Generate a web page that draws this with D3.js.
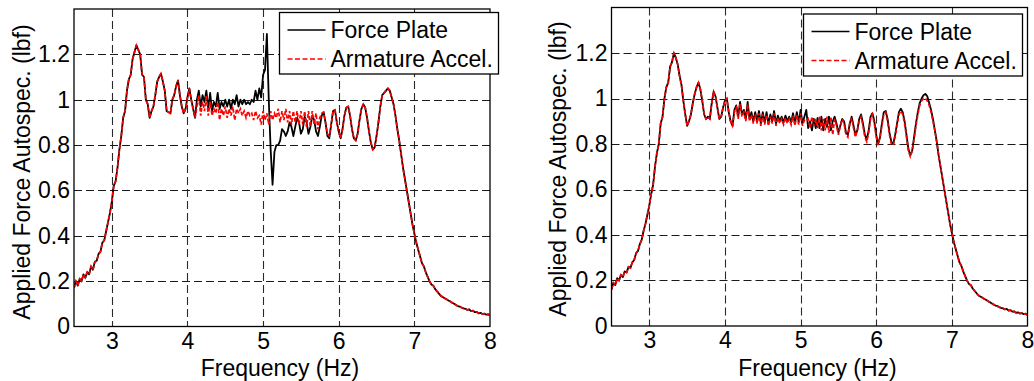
<!DOCTYPE html>
<html><head><meta charset="utf-8">
<script src="https://cdn.jsdelivr.net/npm/d3@7"></script>
<style>
body{margin:0;background:#fff}
svg{display:block}
text{font-family:"Liberation Sans",Arial,Helvetica,sans-serif;fill:#000}
</style>
</head><body>
<svg id="chart" width="1034" height="381"></svg>
<script>
// ---- data ----
const freqStart = 2.5, freqStep = 0.025;   // frequency grid (Hz)
const xTicks = [3, 4, 5, 6, 7, 8];
const yTicks = [0, 0.2, 0.4, 0.6, 0.8, 1, 1.2];
const yTickLabels = ["0", "0.2", "0.4", "0.6", "0.8", "1", "1.2"];
const seriesNames = ["Force Plate", "Armature Accel."];
const xLabel = "Frequency (Hz)";
const yLabel = "Applied Force Autospec. (lbf)";

const leftForcePlate = [
0.17,0.20,0.18,0.21, 0.20,0.23,0.215,0.24, 0.23,0.265,0.25,0.285, 0.29,0.32,0.33,0.37, 0.38,0.42,0.46,0.50,
0.55,0.62,0.64,0.70, 0.78,0.84,0.92,0.95, 1.04,1.09,1.11,1.18, 1.21,1.24,1.22,1.20, 1.11,1.10,1.00,0.98,
0.92,0.95,0.97,1.02, 1.08,1.10,1.115,1.08, 1.04,0.95,0.945,0.94, 1.00,1.02,1.06,1.085, 1.02,0.97,0.94,0.96,
1.01,1.05,1.00,0.96, 0.92,1.00,1.04,0.97, 1.02,0.99,1.04,0.96, 1.03,0.95,0.99,0.97, 1.03,0.96,0.99,0.97,
1.00,0.97,1.00,0.96, 1.00,0.98,1.02,0.97, 1.00,0.98,1.00,0.98, 0.99,0.98,1.00,0.99, 1.04,1.00,1.05,1.01,
1.11,1.13,1.29,1.00, 0.78,0.625,0.77,0.80, 0.80,0.82,0.87,0.86, 0.84,0.86,0.90,0.88, 0.84,0.88,0.92,0.90,
0.85,0.87,0.925,0.90, 0.85,0.88,0.93,0.91, 0.86,0.84,0.88,0.93, 0.945,0.90,0.84,0.83, 0.89,0.95,0.955,0.90,
0.86,0.83,0.87,0.93, 0.965,0.97,0.93,0.87, 0.83,0.82,0.85,0.91, 0.96,0.98,0.965,0.92, 0.86,0.81,0.78,0.79,
0.84,0.90,0.97,1.02, 1.03,1.04,1.05,1.04, 1.01,0.98,0.93,0.87, 0.82,0.76,0.70,0.65, 0.60,0.55,0.50,0.45,
0.41,0.37,0.34,0.31, 0.28,0.265,0.24,0.22, 0.20,0.185,0.18,0.165, 0.155,0.145,0.135,0.13, 0.125,0.12,0.115,0.11,
0.105,0.10,0.095,0.09, 0.088,0.083,0.08,0.078, 0.073,0.075,0.068,0.07, 0.063,0.064,0.058,0.06, 0.055,0.057,0.052,0.054,
0.048];

const leftArmature = [
0.17,0.20,0.18,0.21, 0.20,0.23,0.215,0.24, 0.23,0.265,0.25,0.285, 0.29,0.32,0.33,0.37, 0.38,0.42,0.46,0.50,
0.55,0.62,0.64,0.70, 0.78,0.84,0.92,0.95, 1.04,1.09,1.11,1.18, 1.21,1.24,1.22,1.20, 1.11,1.10,1.00,0.98,
0.92,0.95,0.97,1.02, 1.08,1.10,1.115,1.08, 1.04,0.95,0.945,0.94, 1.00,1.02,1.06,1.085, 1.02,0.97,0.94,0.96,
1.01,1.05,1.00,0.96, 0.92,0.97,1.02,0.93, 0.99,0.95,1.02,0.93, 0.99,0.93,0.96,0.94, 0.99,0.91,0.96,0.93,
0.97,0.92,0.96,0.93, 0.97,0.91,0.96,0.94, 0.96,0.93,0.95,0.92, 0.95,0.93,0.94,0.91, 0.95,0.92,0.93,0.89,
0.95,0.91,0.94,0.89, 0.95,0.91,0.94,0.92, 0.96,0.90,0.95,0.91, 0.96,0.90,0.95,0.89, 0.95,0.90,0.95,0.89,
0.95,0.89,0.95,0.88, 0.95,0.88,0.95,0.89, 0.94,0.87,0.92,0.94, 0.945,0.90,0.85,0.84, 0.89,0.95,0.955,0.90,
0.86,0.83,0.87,0.93, 0.965,0.97,0.93,0.87, 0.83,0.82,0.85,0.91, 0.96,0.98,0.965,0.92, 0.86,0.81,0.78,0.79,
0.84,0.90,0.97,1.02, 1.03,1.04,1.05,1.04, 1.01,0.98,0.93,0.87, 0.82,0.76,0.70,0.65, 0.60,0.55,0.50,0.45,
0.41,0.37,0.34,0.31, 0.28,0.265,0.24,0.22, 0.20,0.185,0.18,0.165, 0.155,0.145,0.135,0.13, 0.125,0.12,0.115,0.11,
0.105,0.10,0.095,0.09, 0.088,0.083,0.08,0.078, 0.073,0.075,0.068,0.07, 0.063,0.064,0.058,0.06, 0.055,0.057,0.052,0.054,
0.048];

const rightForcePlate = [
0.16,0.19,0.18,0.21, 0.20,0.225,0.215,0.24, 0.235,0.26,0.255,0.28, 0.29,0.32,0.33,0.36, 0.38,0.42,0.45,0.49,
0.53,0.58,0.62,0.70, 0.76,0.80,0.89,0.92, 1.00,1.05,1.07,1.14, 1.16,1.20,1.18,1.15, 1.10,1.06,0.99,0.93,
0.88,0.90,0.93,0.98, 1.02,1.05,1.07,1.04, 0.99,0.93,0.91,0.92, 0.91,0.98,1.03,1.01, 0.96,0.91,0.92,0.96,
0.99,1.00,0.94,0.90, 0.88,0.95,0.97,0.92, 0.985,0.93,0.95,0.91, 0.985,0.91,0.94,0.90, 0.94,0.90,0.945,0.89,
0.94,0.895,0.94,0.89, 0.93,0.90,0.945,0.89, 0.925,0.90,0.92,0.895, 0.925,0.90,0.92,0.895, 0.935,0.89,0.94,0.895,
0.95,0.89,0.92,0.95, 0.87,0.90,0.86,0.91, 0.87,0.915,0.87,0.92, 0.86,0.91,0.875,0.92, 0.86,0.90,0.92,0.89,
0.85,0.88,0.91,0.90, 0.85,0.84,0.89,0.92, 0.88,0.84,0.86,0.91, 0.93,0.89,0.84,0.82, 0.86,0.92,0.935,0.90,
0.84,0.80,0.83,0.89, 0.94,0.945,0.91,0.85, 0.81,0.80,0.84,0.89, 0.94,0.955,0.94,0.90, 0.84,0.78,0.75,0.77,
0.83,0.89,0.94,0.98, 1.00,1.015,1.02,1.01, 0.98,0.95,0.91,0.86, 0.81,0.75,0.70,0.65, 0.60,0.55,0.50,0.45,
0.41,0.37,0.34,0.31, 0.28,0.265,0.24,0.22, 0.20,0.185,0.18,0.165, 0.155,0.145,0.135,0.13, 0.125,0.12,0.115,0.11,
0.105,0.10,0.095,0.09, 0.088,0.083,0.08,0.078, 0.073,0.075,0.068,0.07, 0.063,0.064,0.058,0.06, 0.055,0.057,0.052,0.054,
0.048];

const rightArmature = [
0.16,0.19,0.18,0.21, 0.20,0.225,0.215,0.24, 0.235,0.26,0.255,0.28, 0.29,0.32,0.33,0.36, 0.38,0.42,0.45,0.49,
0.53,0.58,0.62,0.70, 0.76,0.80,0.89,0.92, 1.00,1.05,1.07,1.14, 1.16,1.20,1.18,1.15, 1.10,1.06,0.99,0.93,
0.88,0.90,0.93,0.98, 1.02,1.05,1.07,1.04, 0.99,0.93,0.91,0.92, 0.91,0.98,1.03,1.01, 0.96,0.91,0.92,0.96,
0.99,1.00,0.94,0.90, 0.88,0.94,0.96,0.91, 0.975,0.92,0.94,0.90, 0.975,0.90,0.93,0.89, 0.93,0.89,0.935,0.88,
0.93,0.885,0.93,0.88, 0.92,0.89,0.935,0.88, 0.915,0.89,0.91,0.885, 0.915,0.89,0.91,0.885, 0.925,0.88,0.93,0.885,
0.935,0.88,0.905,0.90, 0.91,0.87,0.92,0.88, 0.91,0.87,0.92,0.86, 0.91,0.86,0.92,0.85, 0.92,0.84,0.91,0.88,
0.84,0.88,0.91,0.89, 0.84,0.83,0.89,0.915, 0.87,0.83,0.86,0.90, 0.92,0.88,0.83,0.81, 0.85,0.91,0.93,0.89,
0.83,0.795,0.83,0.88, 0.93,0.94,0.90,0.84, 0.80,0.795,0.83,0.88, 0.93,0.945,0.93,0.89, 0.83,0.77,0.745,0.77,
0.82,0.88,0.93,0.97, 0.99,1.00,1.00,0.99, 0.97,0.94,0.90,0.86, 0.81,0.75,0.70,0.65, 0.60,0.55,0.50,0.45,
0.41,0.37,0.34,0.31, 0.28,0.265,0.24,0.22, 0.20,0.185,0.18,0.165, 0.155,0.145,0.135,0.13, 0.125,0.12,0.115,0.11,
0.105,0.10,0.095,0.09, 0.088,0.083,0.08,0.078, 0.073,0.075,0.068,0.07, 0.063,0.064,0.058,0.06, 0.055,0.057,0.052,0.054,
0.048];

// ---- layout ----
const panels = [
  {l:74, r:490, t:9, b:326.5, lg:{x:279.5, y:12.5, w:219, h:61.5}, ylx:21.7, yly:172,
   series:[leftForcePlate, leftArmature]},
  {l:611.5, r:1027.5, t:7.5, b:326, lg:{x:803.5, y:14, w:219, h:62}, ylx:558, yly:169,
   series:[rightForcePlate, rightArmature]}
];
const FS = 23;
const svg = d3.select("#chart");

panels.forEach((p, pi) => {
  const x = d3.scaleLinear().domain([2.5, 8]).range([p.l, p.r]);
  const y = d3.scaleLinear().domain([0, 1.4]).range([p.b, p.t]);
  const g = svg.append("g");

  // grid
  const gx = g.append("g");
  xTicks.filter(v => v < 8).forEach(v => {
    const xx = Math.round(x(v)) + 0.5;
    gx.append("line").attr("x1", xx).attr("x2", xx).attr("y1", p.t).attr("y2", p.b)
      .attr("stroke", "#2a2a2a").attr("stroke-width", 1.1).attr("stroke-dasharray", "8,4");
  });
  yTicks.filter(v => v > 0).forEach(v => {
    const yy = Math.round(y(v)) + 0.5;
    gx.append("line").attr("x1", p.l).attr("x2", p.r).attr("y1", yy).attr("y2", yy)
      .attr("stroke", "#1a1a1a").attr("stroke-width", 1.1).attr("stroke-dasharray", "8,4");
  });

  // clip
  const cid = "clip" + pi;
  svg.append("defs").append("clipPath").attr("id", cid)
    .append("rect").attr("x", p.l).attr("y", p.t).attr("width", p.r - p.l).attr("height", p.b - p.t);

  const line = d3.line().x((d, i) => x(freqStart + i * freqStep)).y(d => y(d));
  const lg = g.append("g").attr("clip-path", `url(#${cid})`);
  lg.append("path").datum(p.series[0]).attr("d", line)
    .attr("fill", "none").attr("stroke", "#000").attr("stroke-width", 1.8).attr("stroke-linejoin", "round");
  lg.append("path").datum(p.series[1]).attr("d", line)
    .attr("fill", "none").attr("stroke", "#ff0000").attr("stroke-width", 1.7)
    .attr("stroke-dasharray", "4,2");

  // box
  g.append("rect").attr("x", p.l).attr("y", p.t).attr("width", p.r - p.l).attr("height", p.b - p.t)
    .attr("fill", "none").attr("stroke", "#000").attr("stroke-width", 1.3);

  // axes (labels only)
  const ax = g.append("g").attr("transform", `translate(0,${p.b})`)
    .call(d3.axisBottom(x).tickValues(xTicks).tickSize(0).tickPadding(6).tickFormat(d3.format("d")));
  const ay = g.append("g").attr("transform", `translate(${p.l},0)`)
    .call(d3.axisLeft(y).tickValues(yTicks).tickSize(0).tickPadding(4)
      .tickFormat((d, i) => yTickLabels[i]));
  [ax, ay].forEach(a => {
    a.select(".domain").remove();
    a.selectAll("text").attr("font-size", FS).attr("fill", "#000")
      .style("font-family", '"Liberation Sans",Arial,sans-serif');
  });

  // axis labels
  g.append("text").attr("x", (p.l + p.r) / 2 - 2).attr("y", 375.5).attr("text-anchor", "middle")
    .attr("font-size", FS).text(xLabel);
  g.append("text").attr("transform", `translate(${p.ylx},${p.yly}) rotate(-90)`)
    .attr("text-anchor", "middle").attr("dominant-baseline", "central")
    .attr("font-size", FS).text(yLabel);

  // legend
  const L = p.lg;
  const leg = g.append("g");
  leg.append("rect").attr("x", L.x).attr("y", L.y).attr("width", L.w).attr("height", L.h)
    .attr("fill", "#fff").attr("stroke", "#000").attr("stroke-width", 1.3);
  const rows = [L.y + 17.5, L.y + 46.5];
  const styles = [{c:"#000", d:null}, {c:"#ff0000", d:"5,2.5"}];
  seriesNames.forEach((name, i) => {
    const s = leg.append("line").attr("x1", L.x + 8).attr("x2", L.x + 46)
      .attr("y1", rows[i]).attr("y2", rows[i]).attr("stroke", styles[i].c).attr("stroke-width", 1.7);
    if (styles[i].d) s.attr("stroke-dasharray", styles[i].d);
    leg.append("text").attr("x", L.x + 51).attr("y", rows[i] + 8.2).attr("font-size", FS).text(name);
  });
});
</script>
</body></html>
